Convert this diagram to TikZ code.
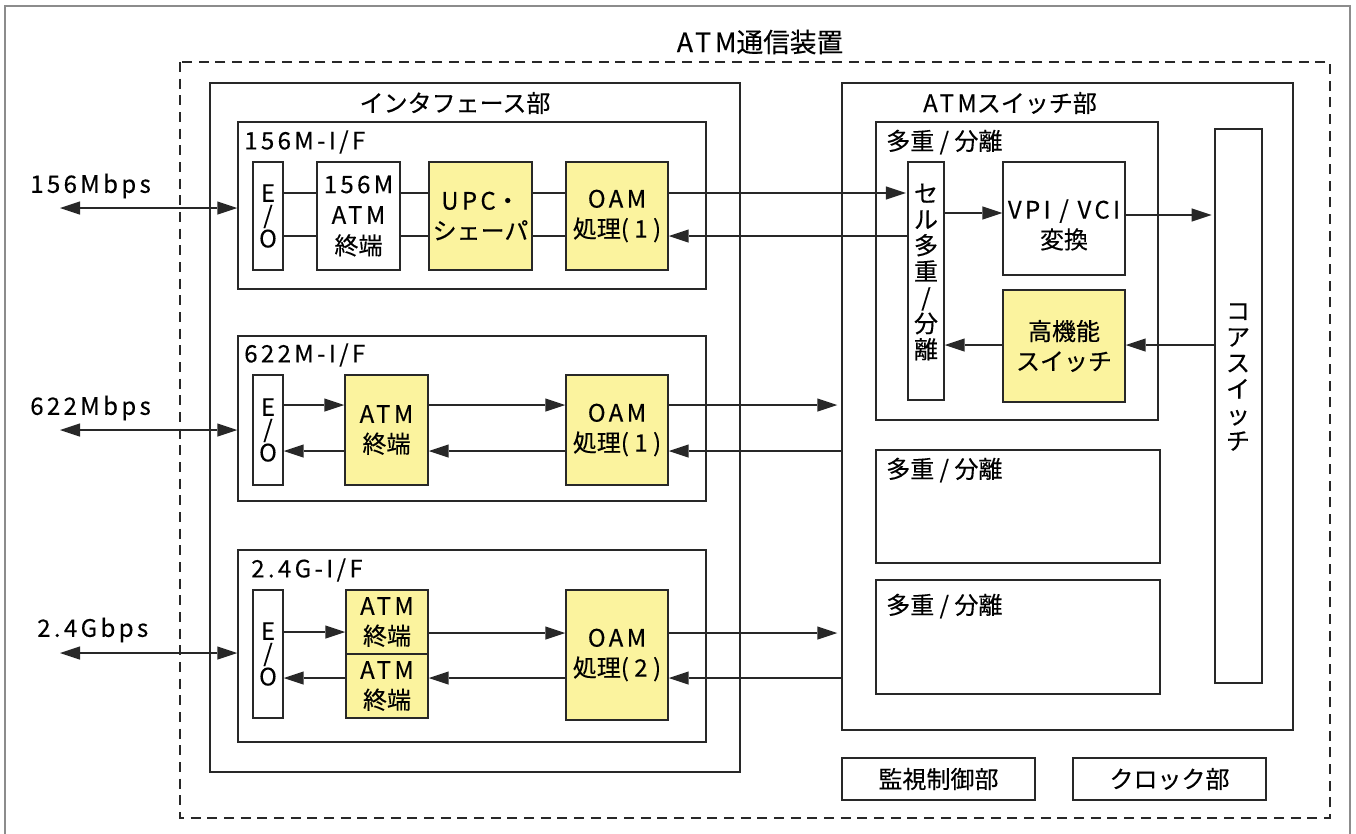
\documentclass[tikz,border=0pt]{standalone}
\usepackage{fontspec}
\setmainfont{Noto Sans CJK JP}[FakeBold=0.3]
\newfontfamily\lat{Noto Sans CJK JP}[LetterSpace=14,FakeBold=0.3]
\usetikzlibrary{arrows.meta}
\definecolor{yel}{RGB}{251,243,158}
\definecolor{ink}{RGB}{40,40,40}
\definecolor{frm}{RGB}{140,140,140}
\newcommand\mybox[7]{\node[#6, minimum width={(#4-#2)*0.75pt}, minimum height={(#5-#3)*0.75pt}] (#1) at ({(#2+#4)/2},{(#3+#5)/2}) {#7};}
\begin{document}
\begin{tikzpicture}[x=0.75pt,y=-0.75pt,
  bx/.style={draw=ink, line width=1.1pt, fill=white, inner sep=0pt, align=center, font=\fontsize{18}{22.5}\selectfont},
  ybx/.style={bx, fill=yel},
  cont/.style={draw=ink, line width=1.1pt, inner sep=0pt},
  vt/.style={align=center, inner sep=0pt, font=\fontsize{18}{19.5}\selectfont},
  lbl/.style={anchor=west, inner sep=0pt, font=\fontsize{18}{22}\selectfont},
  ctr/.style={inner sep=0pt, align=center, font=\fontsize{18}{22.5}\selectfont},
  con/.style={draw=ink, line width=0.9pt},
  tipa/.tip={Triangle[length=15pt,width=10pt,line width=0pt]},
  arr/.style={con, -tipa},
  darr/.style={con, tipa-tipa}
]
\useasboundingbox (0,0) rectangle (1356,833);
% outer frame and dashed enclosure
\draw[frm, line width=1.2pt] (5,850) -- (5,6) -- (1350,6) -- (1350,850);
\draw[ink, line width=1pt, dash pattern=on 7.5pt off 5pt] (180,62) rectangle (1330,818);
\node[ctr, font=\fontsize{20}{24}\selectfont] (title) at (760,42) {{\lat ATM}通信装置};

% interface section
\mybox{ifu}{210}{83}{740}{772}{cont}{}
\node[ctr] (ifulbl) at (455,103) {インタフェース部};

% 156M
\mybox{if1}{238}{122}{706}{289}{cont}{}
\node[lbl] (if1lbl) at (244,142) {\lat 156M-I/F};
\mybox{eo1}{253}{162}{283}{270}{bx, font=\fontsize{18}{16.5}\selectfont}{E\\/\\O}
\mybox{atm1}{317}{162}{400}{270}{bx, font=\fontsize{18}{23}\selectfont}{{\lat 156M}\\{\lat ATM}\\終端}
\mybox{upc}{429}{162}{532}{270}{ybx}{{\lat UPC}・\\シェーパ}
\mybox{oam1}{566}{162}{668}{270}{ybx}{{\lat OAM}\\処理( 1 )}

% 622M
\mybox{if2}{238}{336}{706}{501}{cont}{}
\node[lbl] (if2lbl) at (244,355) {\lat 622M-I/F};
\mybox{eo2}{253}{375}{283}{485}{bx, font=\fontsize{18}{16.5}\selectfont}{E\\/\\O}
\mybox{atm2}{345}{375}{428}{485}{ybx}{{\lat ATM}\\終端}
\mybox{oam2}{566}{375}{668}{485}{ybx}{{\lat OAM}\\処理( 1 )}

% 2.4G
\mybox{if3}{238}{550}{706}{742}{cont}{}
\node[lbl] (if3lbl) at (251,570) {\lat 2.4G-I/F};
\mybox{eo3}{253}{590}{283}{718}{bx, font=\fontsize{18}{16.5}\selectfont}{E\\/\\O}
\mybox{atm3a}{346}{590}{428}{654}{ybx}{{\lat ATM}\\終端}
\mybox{atm3b}{346}{654}{428}{718}{ybx}{{\lat ATM}\\終端}
\mybox{oam3}{566}{590}{668}{720}{ybx}{{\lat OAM}\\処理( 2 )}

% ATM switch section
\mybox{sw}{842}{83}{1293}{730}{cont}{}
\node[ctr] (swlbl) at (1010,103) {{\lat ATM}スイッチ部};
\mybox{mux1}{876}{122}{1158}{420}{cont}{}
\node[lbl] (mux1lbl) at (886,142) {多重 / 分離};
\mybox{cell}{908}{162}{944}{400}{bx}{}
\node[vt] (celltxt) at (926,272) {セ\\ル\\多\\重\\/\\分\\離};
\mybox{vpi}{1003}{162}{1125}{275}{bx}{}
\node[ctr] (vpitxt) at (1064,225) {{\lat VPI / VCI}\\変換};
\mybox{hf}{1003}{290}{1125}{402}{ybx}{高機能\\スイッチ}
\mybox{core}{1215}{129}{1262}{683}{bx}{}
\node[vt] (coretxt) at (1238,377) {コ\\ア\\ス\\イ\\ッ\\チ};
\mybox{mux2}{876}{450}{1160}{563}{cont}{}
\node[lbl] (mux2lbl) at (886,470) {多重 / 分離};
\mybox{mux3}{876}{580}{1160}{694}{cont}{}
\node[lbl] (mux3lbl) at (886,606) {多重 / 分離};
\mybox{mon}{842}{758}{1035}{800}{bx}{監視制御部}
\mybox{clk}{1073}{758}{1266}{800}{bx}{クロック部}

% external ports
\coordinate (p1) at (60,208);
\coordinate (p2) at (60,430);
\coordinate (p3) at (60,653);
\node[lbl] (r1) at (30,186) {\lat 156Mbps};
\node[lbl] (r2) at (30,408) {\lat 622Mbps};
\node[lbl] (r3) at (37,630) {\lat 2.4Gbps};
\draw[darr] (p1) -- (if1.west |- p1);
\draw[darr] (p2) -- (if2.west |- p2);
\draw[darr] (p3) -- (if3.west |- p3);

% 156M connectors
\draw[con] (eo1.east |- 0,193) -- (atm1.west |- 0,193);
\draw[con] (atm1.east |- 0,193) -- (upc.west |- 0,193);
\draw[con] (upc.east |- 0,193) -- (oam1.west |- 0,193);
\draw[con] (eo1.east |- 0,236) -- (atm1.west |- 0,236);
\draw[con] (atm1.east |- 0,236) -- (upc.west |- 0,236);
\draw[con] (upc.east |- 0,236) -- (oam1.west |- 0,236);
\draw[arr] (oam1.east |- 0,193) -- ([xshift=-1pt]cell.west |- 0,193);
\draw[arr] (cell.west |- 0,236) -- (oam1.east |- 0,236);

% 622M connectors
\draw[arr] (eo2.east |- 0,405) -- (atm2.west |- 0,405);
\draw[arr] (atm2.east |- 0,405) -- (oam2.west |- 0,405);
\draw[arr, shorten >=3pt] (oam2.east |- 0,405) -- (sw.west |- 0,405);
\draw[arr] (sw.west |- 0,451) -- (oam2.east |- 0,451);
\draw[arr] (oam2.west |- 0,451) -- (atm2.east |- 0,451);
\draw[arr] (atm2.west |- 0,451) -- (eo2.east |- 0,451);

% 2.4G connectors
\draw[arr] (eo3.east |- 0,632) -- (atm3a.west |- 0,632);
\draw[arr] (atm3a.east |- 0,633) -- (oam3.west |- 0,633);
\draw[arr, shorten >=3pt] (oam3.east |- 0,633) -- (sw.west |- 0,633);
\draw[arr] (sw.west |- 0,678) -- (oam3.east |- 0,678);
\draw[arr] (oam3.west |- 0,678) -- (atm3b.east |- 0,678);
\draw[arr] (atm3b.west |- 0,678) -- (eo3.east |- 0,678);

% switch connectors
\draw[arr] (cell.east |- 0,213) -- (vpi.west |- 0,213);
\draw[arr, shorten >=2pt] (vpi.east |- 0,215) -- (core.west |- 0,215);
\draw[arr] (core.west |- 0,345) -- (hf.east |- 0,345);
\draw[arr] (hf.west |- 0,345) -- (cell.east |- 0,345);
\end{tikzpicture}
\end{document}
